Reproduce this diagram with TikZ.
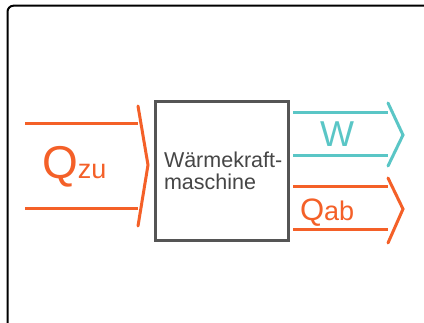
\documentclass[tikz,border=0pt]{standalone}
\usepackage{fontspec}
\setmainfont{Liberation Sans}
\definecolor{heat}{RGB}{244,96,40}
\definecolor{work}{RGB}{90,198,198}
\definecolor{boxgrey}{RGB}{85,85,85}
\definecolor{textgrey}{RGB}{70,70,70}
\begin{document}
\begin{tikzpicture}[x=1pt,y=-1pt,
  flow/.style={line width=3pt},
  chev/.style={line width=3pt,line cap=round,line join=miter},
  lbl/.style={inner sep=0pt,outer sep=0pt,anchor=base west}]
\useasboundingbox (0,0) rectangle (424,323);
\fill[white] (0,0) rectangle (424,323);
% outer frame
\draw[line width=2pt,rounded corners=6pt] (7.5,340) -- (7.5,5.7) -- (440,5.7);
% machine box
\node[draw=boxgrey,line width=3pt,minimum width=133pt,minimum height=139pt,inner sep=0pt] (engine) at (221.5,171.5) {};
\node[lbl,text=textgrey] (l1) at (164,168) {\fontsize{21.5}{22}\selectfont Wärmekraft-};
\node[lbl,text=textgrey] (l2) at (164,190) {\fontsize{21.5}{22}\selectfont maschine};
% Q_zu arrow
\coordinate (zt0) at (25,124); \coordinate (zt1) at (138,124);
\coordinate (zb0) at (25,209); \coordinate (zb1) at (138,209);
\coordinate (zc0) at (138,106); \coordinate (zc1) at (148,165); \coordinate (zc2) at (138,226);
\draw[flow,heat] (zt0) -- (zt1);
\draw[flow,heat] (zb0) -- (zb1);
\draw[chev,heat] (zc0) -- (zc1) -- (zc2);
\node[lbl,text=heat] (qzu) at (42,179) {\fontsize{46}{46}\selectfont Q\fontsize{27}{27}\selectfont zu};
% W arrow
\coordinate (wt0) at (293,113); \coordinate (wt1) at (388,113);
\coordinate (wb0) at (293,156); \coordinate (wb1) at (388,156);
\coordinate (wc0) at (388,103); \coordinate (wc1) at (403,135); \coordinate (wc2) at (388,166);
\draw[flow,work] (wt0) -- (wt1);
\draw[flow,work] (wb0) -- (wb1);
\draw[chev,work] (wc0) -- (wc1) -- (wc2);
\node[inner sep=0pt,anchor=base,text=work] (w) at (337,147) {\fontsize{36}{36}\selectfont W};
% Q_ab arrow
\coordinate (at0) at (293,187); \coordinate (at1) at (388,187);
\coordinate (ab0) at (293,230); \coordinate (ab1) at (388,230);
\coordinate (ac0) at (388,178); \coordinate (ac1) at (403,209); \coordinate (ac2) at (388,243);
\draw[flow,heat] (at0) -- (at1);
\draw[flow,heat] (ab0) -- (ab1);
\draw[chev,heat] (ac0) -- (ac1) -- (ac2);
\node[lbl,text=heat] (qab) at (300,221) {\fontsize{31}{31}\selectfont Q\fontsize{27}{27}\selectfont ab};
\end{tikzpicture}
\end{document}
